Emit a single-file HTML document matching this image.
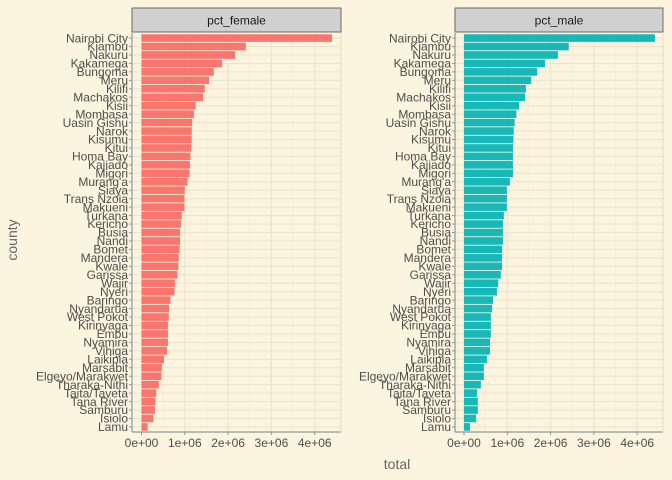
<!DOCTYPE html>
<html><head><meta charset="utf-8"><style>
html,body{margin:0;padding:0;background:#fcf4de;}
svg{display:block;font-family:"Liberation Sans",sans-serif;}
</style></head><body>
<svg id="chart" width="672" height="480"></svg>
<script>
const counties = ["Nairobi City","Kiambu","Nakuru","Kakamega","Bungoma","Meru","Kilifi","Machakos","Kisii","Mombasa","Uasin Gishu","Narok","Kisumu","Kitui","Homa Bay","Kajiado","Migori","Murang'a","Siaya","Trans Nzoia","Makueni","Turkana","Kericho","Busia","Nandi","Bomet","Mandera","Kwale","Garissa","Wajir","Nyeri","Baringo","Nyandarua","West Pokot","Kirinyaga","Embu","Nyamira","Vihiga","Laikipia","Marsabit","Elgeyo/Marakwet","Tharaka-Nithi","Taita/Taveta","Tana River","Samburu","Isiolo","Lamu"];
const femaleTotals = [4.40,2.41,2.16,1.86,1.67,1.56,1.46,1.42,1.25,1.21,1.17,1.16,1.16,1.15,1.13,1.12,1.11,1.06,1.00,0.99,0.99,0.93,0.91,0.89,0.89,0.88,0.86,0.85,0.83,0.77,0.76,0.67,0.64,0.63,0.61,0.61,0.61,0.59,0.52,0.47,0.46,0.40,0.34,0.32,0.31,0.27,0.14];
const maleTotals = [4.41,2.42,2.17,1.87,1.69,1.55,1.43,1.41,1.27,1.21,1.17,1.15,1.14,1.13,1.13,1.13,1.13,1.06,0.99,0.99,0.99,0.92,0.90,0.90,0.90,0.88,0.88,0.88,0.85,0.79,0.76,0.67,0.65,0.62,0.62,0.62,0.60,0.60,0.53,0.46,0.46,0.39,0.30,0.32,0.32,0.28,0.14];
const xTicks = [0,1,2,3,4];
const xTickLabels = ["0e+00","1e+06","2e+06","3e+06","4e+06"];
const facetNames = ["pct_female","pct_male"];

const NS="http://www.w3.org/2000/svg";
const svg=document.getElementById('chart');
function mk(tag,attrs,parent){const e=document.createElementNS(NS,tag);for(const k in attrs)e.setAttribute(k,attrs[k]);(parent||svg).appendChild(e);return e;}

const plotTop=33,plotBottom=432;
const n=counties.length;
const step=(plotBottom-plotTop)/(n-1+1.2);
function yPos(i){return plotTop+step*(0.6+i);}
const pxPer=43.3;
const panels=[{x0:132,x1:341,zero:141.5,vals:femaleTotals,color:"#f8766d"},{x0:455,x1:663,zero:464,vals:maleTotals,color:"#19b8b8"}];

panels.forEach((p,pi)=>{
  const g=mk('g',{});
  
  
  const xs=v=>p.zero+v*pxPer;
  const strip=mk('rect',{x:p.x0,y:8,width:p.x1-p.x0,height:24,fill:"#d0d0d0",stroke:"#4d4d4d","stroke-width":0.8},g);
  
  
  const st=mk('text',{x:(p.x0+p.x1)/2,y:24.5,"text-anchor":"middle","font-size":12,fill:"#1a1a1a"},g);
  st.textContent=facetNames[pi];
  
  
  xTicks.forEach(t=>{mk('line',{x1:xs(t),x2:xs(t),y1:plotTop,y2:plotBottom,stroke:"#ebe3cc","stroke-width":1.1},g);});
  xTicks.slice(0,-1).forEach(t=>{mk('line',{x1:xs(t+0.5),x2:xs(t+0.5),y1:plotTop,y2:plotBottom,stroke:"#efe8d4","stroke-width":0.5},g);});
  counties.forEach((c,i)=>{mk('line',{x1:p.x0,x2:p.x1,y1:yPos(i),y2:yPos(i),stroke:"#ebe3cc","stroke-width":1.1},g);});
  counties.forEach((c,i)=>{
    const r=mk('rect',{x:xs(0),y:yPos(i)-step*0.45,width:Math.max(0,xs(p.vals[i])-xs(0)),height:step*0.9,fill:p.color},g);
    
    
  });
  mk('line',{x1:p.x0,x2:p.x0,y1:plotTop,y2:plotBottom,stroke:"#8a9a9a","stroke-width":1.2},g);
  mk('line',{x1:p.x0,x2:p.x1,y1:plotBottom,y2:plotBottom,stroke:"#8a9a9a","stroke-width":1.2},g);
  mk('line',{x1:p.x1,x2:p.x1,y1:plotTop,y2:plotBottom,stroke:"#ddd5bf","stroke-width":0.8},g);
  counties.forEach((c,i)=>{
    mk('line',{x1:p.x0-3,x2:p.x0,y1:yPos(i),y2:yPos(i),stroke:"#8a9a9a","stroke-width":1},g);
    const t=mk('text',{x:p.x0-4,y:yPos(i)+4.2,"text-anchor":"end","font-size":12,fill:"#4d4d4d"},g);
    t.textContent=c;
    
    
  });
  xTicks.forEach((t,k)=>{
    mk('line',{x1:xs(t),x2:xs(t),y1:plotBottom,y2:plotBottom+3,stroke:"#8a9a9a","stroke-width":1},g);
    const tx=mk('text',{x:xs(t),y:plotBottom+15,"text-anchor":"middle","font-size":12,fill:"#4d4d4d"},g);
    tx.textContent=xTickLabels[k];
    
    
  });
});
const xt=mk('text',{x:397,y:469,"text-anchor":"middle","font-size":14,fill:"#666"});
xt.textContent="total";


const yt=mk('text',{x:17,y:240,"text-anchor":"middle","font-size":14,fill:"#666",transform:"rotate(-90 17 240)"});
yt.textContent="county";


</script>
</body></html>
